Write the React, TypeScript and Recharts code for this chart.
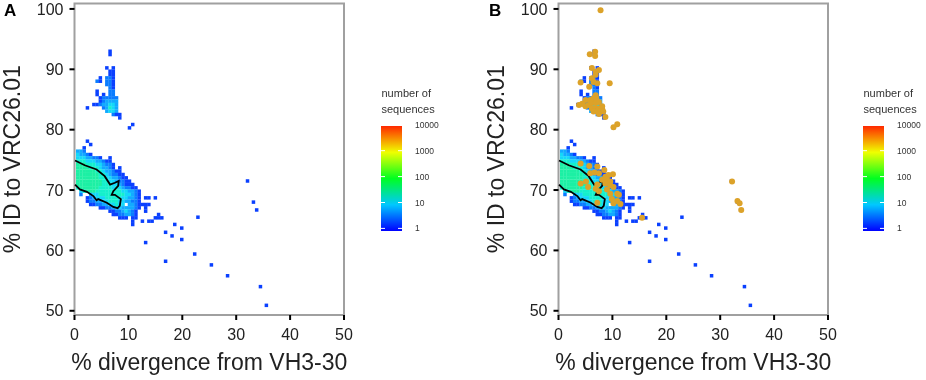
import React from "react";
import { ScatterChart, Scatter, XAxis, YAxis, ReferenceArea } from "recharts";

const FONT = "'Liberation Sans', Arial, sans-serif";

const xTicks = [0, 10, 20, 30, 40, 50];
const yTicks = [50, 60, 70, 80, 90, 100];
const xTitle = "% divergence from VH3-30";
const yTitle = "% ID to VRC26.01";
const legendTitle = ["number of", "sequences"];
const legendLabels = ["1", "10", "100", "1000", "10000"];

// colour of each density level: 1 = one sequence ... 6 = about fifty
const levelColors = ["", "#0a40ff", "#0a7cff", "#12aaff", "#14d8f8", "#14f0cc", "#1cf0a4"];

// binned density table: [row, first column, level per column (0 = empty)]
const heatRows: [number, number, string][] = [
  [13, 11, "1"], [14, 11, "1"], [18, 10, "101"], [19, 11, "11"], [20, 11, "11"],
  [21, 8, "10221"], [22, 7, "210221"], [23, 10, "221"], [24, 11, "21"],
  [25, 7, "100022"], [26, 7, "101022"], [27, 8, "122222"], [28, 8, "123333"],
  [29, 6, "11233443"], [30, 4, "1000023543"], [31, 10, "3443"], [32, 12, "211"], [33, 14, "1"],
  [35, 18, "1"], [36, 17, "1"],
  [40, 4, "1"], [41, 5, "1"], [42, 3, "1"],
  [43, 1, "332"], [44, 1, "43321"], [45, 1, "44433221001"], [46, 1, "55544433211"],
  [47, 1, "666555443221"], [48, 1, "66665554332101"], [49, 1, "66666655433211"],
  [50, 1, "666666655432211"], [51, 1, "6666666554433211"], [52, 1, "66666666554432211"],
  [53, 1, "666666665554432111"], [54, 1, "5666666555545432211"],
  [55, 2, "4566655555555443321"], [56, 2, "2003445555555544321"],
  [57, 4, "1234445555544332101101"], [58, 4, "12233445554433221"],
  [59, 5, "1122334454403321111"], [60, 8, "1122344333321" + "01"],
  [61, 11, "11223432100" + "1"], [62, 12, "11223321" + "0000001"],
  [63, 14, "111011" + "00000111"], [64, 18, "1001011"], [65, 18, "1"],
];
const rowTop = 100.17;
const rowStep = 0.552;
const colStep = 0.6;

// isolated single-sequence bins
const soloX = [22.9, 18.6, 19.9, 16.9, 18.1, 19.9, 13.2, 22.3, 16.9, 25.4, 28.4, 34.5, 35.6, 32.1, 33.2, 33.8];
const soloY = [65.5, 64.3, 63.7, 63.0, 62.4, 61.8, 61.3, 59.4, 58.2, 57.6, 55.8, 54.0, 50.9, 71.5, 68.0, 66.7];

// density contour
const contourX = [0.1, 1.9, 4.1, 5.6, 6.6, 7.5, 8.2, 8.1, 7.2, 6.9, 7.5, 8.6, 8.4, 8.0, 7.2, 6.0, 4.4, 4.1, 3.5, 2.3, 1.0, 0.1];
const contourY = [74.9, 74.1, 73.4, 72.3, 70.9, 71.2, 71.5, 70.7, 69.8, 69.2, 69.2, 68.5, 67.4, 67.0, 67.2, 67.9, 68.5, 68.3, 69.0, 69.7, 70.1, 70.9];

// panel B overlay points
const goldX = [7.8, 5.8, 6.8, 6.8, 9.5, 4.1, 5.7, 6.2, 7.5, 6.9, 6.9, 6.2, 6.5, 7.2, 6.9, 6.5, 7.0, 5.9, 5.0, 4.4, 3.8, 5.0, 5.6, 6.2, 6.9, 7.5, 8.1, 6.2, 6.9, 7.5, 8.1, 6.5, 7.2, 7.8, 8.3, 7.5, 8.7, 10.9, 10.2,
  4.1, 5.7, 7.2, 5.9, 6.7, 7.5, 8.5, 10.1, 9.3, 8.7, 5.1, 4.1, 5.5, 7.2, 6.9, 7.5, 7.2, 8.1, 9.0, 9.6, 8.7, 9.6, 10.2, 9.0, 10.9, 9.6, 11.2, 9.9, 10.9, 11.5, 10.2, 15.5, 32.2, 33.2, 33.6, 33.9];
const goldY = [99.8, 92.5, 92.9, 92.2, 87.7, 87.8, 87.1, 90.2, 89.9, 89.6, 89.1, 88.5, 87.9, 87.7, 85.7, 85.2, 85.2, 84.9, 84.9, 84.3, 84.1, 83.9, 84.1, 84.4, 84.4, 84.6, 83.9, 83.5, 83.5, 83.5, 83.5, 83.0, 83.0, 83.0, 83.0, 82.6, 82.1, 80.9, 80.4,
  74.4, 74.0, 73.9, 72.8, 72.9, 72.8, 73.3, 72.6, 72.5, 72.2, 71.4, 71.1, 70.5, 70.9, 70.2, 69.8, 67.9, 71.7, 71.7, 71.4, 71.1, 70.8, 70.5, 70.1, 69.4, 69.4, 69.2, 68.5, 68.2, 67.7, 67.8, 65.4, 71.4, 68.2, 67.8, 66.7];

const heatData: { x: number; y: number; level: number }[] = [];
heatRows.forEach(([row, first, levels]) => {
  levels.split("").forEach((ch, i) => {
    const level = Number(ch);
    if (level > 0) heatData.push({ x: (first + i) * colStep, y: rowTop - row * rowStep, level });
  });
});
soloX.forEach((x, i) => heatData.push({ x, y: soloY[i], level: 1 }));
const contourData = contourX.map((x, i) => ({ x, y: contourY[i] }));
const goldData = goldX.map((x, i) => ({ x, y: goldY[i] }));

const xDomain: [number, number] = [0, 50];
const yDomain: [number, number] = [49.3, 100.9];

const HeatCell = (p: any) => (
  <rect x={p.cx - 1.75} y={p.cy - 1.75} width={3.5} height={3.5} fill={levelColors[p.payload.level]} />
);
const GoldDot = (p: any) => <circle cx={p.cx} cy={p.cy} r={3} fill="#dca229" />;
const NoDot = () => <g />;

const axisTick = { fontSize: 16, fill: "#222", fontFamily: FONT };

function Panel({ left, gold }: { left: number; gold: boolean }) {
  return (
    <div style={{ position: "absolute", left, top: 0 }}>
      <ScatterChart width={360} height={380} margin={{ top: 3.5, right: 16, bottom: 0, left: 0 }}>
        <XAxis
          type="number" dataKey="x" domain={xDomain} ticks={xTicks} height={65} interval={0}
          stroke="#000" axisLine={false} tickLine={{ stroke: "#000", strokeWidth: 2 }} tickSize={5} tickMargin={9} tick={axisTick}
          label={{ value: xTitle, position: "insideBottom", offset: 10, style: { fontSize: 23, fill: "#222", fontFamily: FONT } }}
        />
        <YAxis
          type="number" dataKey="y" domain={yDomain} ticks={yTicks} width={74.5} interval={0}
          stroke="#000" axisLine={false} tickLine={{ stroke: "#000", strokeWidth: 2 }} tickSize={5} tickMargin={6} tick={axisTick}
          label={{ value: yTitle, angle: -90, position: "insideLeft", offset: 12, style: { textAnchor: "middle", fontSize: 23, fill: "#222", fontFamily: FONT } }}
        />
        <Scatter data={heatData} shape={HeatCell} isAnimationActive={false} />
        <Scatter data={contourData} shape={NoDot} line={{ stroke: "#000", strokeWidth: 1.8 }} isAnimationActive={false} />
        {gold && <Scatter data={goldData} shape={GoldDot} isAnimationActive={false} />}
        <ReferenceArea x1={0} x2={50} y1={49.3} y2={100.9} fill="none" stroke="#a0a0a0" strokeWidth={2} ifOverflow="visible" />
      </ScatterChart>
    </div>
  );
}

function Legend({ id, left }: { id: string; left: number }) {
  const barLeft = left + 381;
  const barRight = left + 402;
  return (
    <g fontFamily={FONT}>
      <defs>
        <linearGradient id={id} x1="0" y1="1" x2="0" y2="0">
          <stop offset="0%" stopColor="#0000ff" />
          <stop offset="25%" stopColor="#00c8ff" />
          <stop offset="50%" stopColor="#00ff20" />
          <stop offset="75%" stopColor="#f0ff00" />
          <stop offset="100%" stopColor="#ff2800" />
        </linearGradient>
      </defs>
      {legendTitle.map((t, i) => (
        <text key={t} x={left + 381.5} y={97 + i * 16} fontSize={11} fill="#333">{t}</text>
      ))}
      <rect x={barLeft} y={126} width={21} height={105} fill={`url(#${id})`} />
      {legendLabels.map((t, i) => {
        const y = 228.4 - i * 25.9;
        return (
          <g key={t}>
            <line x1={barLeft} x2={barLeft + 4} y1={y} y2={y} stroke="#fff" strokeWidth={1} />
            <line x1={barRight - 4} x2={barRight} y1={y} y2={y} stroke="#fff" strokeWidth={1} />
            <text x={left + 415} y={y + 3} fontSize={8.5} fill="#333">{t}</text>
          </g>
        );
      })}
    </g>
  );
}

export default function App() {
  return (
    <div style={{ position: "absolute", left: 0, top: 0, width: 926, height: 380, background: "#fff", overflow: "hidden", filter: "blur(0.35px)" }}>
      <Panel left={0} gold={false} />
      <Panel left={484} gold={true} />
      <svg width={926} height={380} style={{ position: "absolute", left: 0, top: 0, pointerEvents: "none" }}>
        <text x={4} y={16} fontSize={17} fontWeight="bold" fontFamily={FONT} fill="#000">A</text>
        <text x={489} y={16} fontSize={17} fontWeight="bold" fontFamily={FONT} fill="#000">B</text>
        <Legend id="legendA" left={0} />
        <Legend id="legendB" left={482} />
      </svg>
    </div>
  );
}
